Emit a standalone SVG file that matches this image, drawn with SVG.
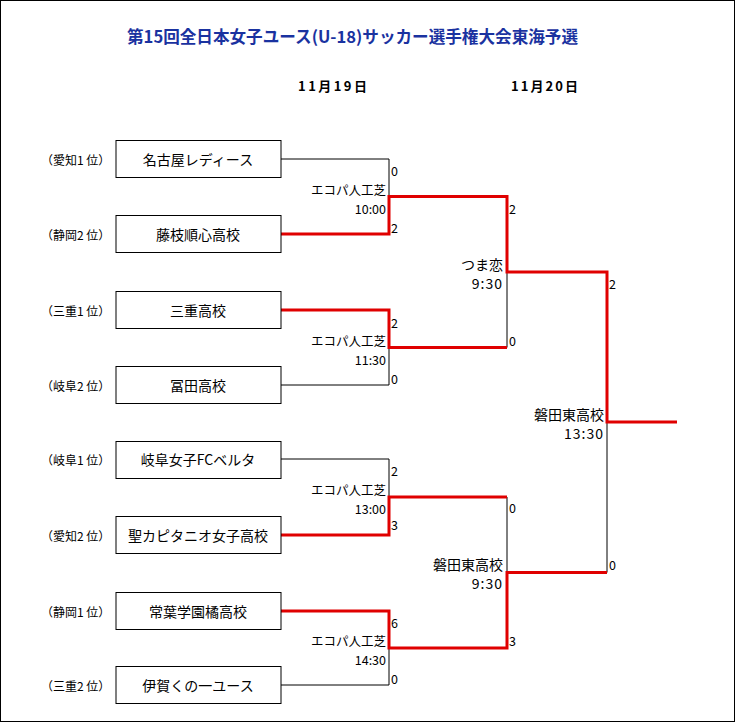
<svg xmlns="http://www.w3.org/2000/svg" width="735" height="722" viewBox="0 0 735 722">
<style>
text{font-family:"Noto Sans CJK JP","Noto Sans",sans-serif;fill:#000;dominant-baseline:central}
.box{fill:#fff;stroke:#000;stroke-width:1}
.team{font-size:14px;text-anchor:middle}
.seed{font-size:12px;text-anchor:start}
.sc{font-size:12.5px;text-anchor:start}
.ven{font-size:12.5px;text-anchor:end}
.ven2{font-size:14px;text-anchor:end}
.blk{fill:none;stroke:#000;stroke-width:1}
.red{fill:none;stroke:#e00000;stroke-width:3;stroke-linejoin:miter}
.title{font-size:16.5px;font-weight:bold;fill:#1a32a0;text-anchor:start}
.date{font-size:13px;font-weight:bold;text-anchor:start}
</style>
<rect x="0.5" y="0.5" width="734" height="721" fill="#fff" stroke="#000" stroke-width="1"/>
<text class="title" x="127" y="36" textLength="451" lengthAdjust="spacingAndGlyphs">第15回全日本女子ユース(U-18)サッカー選手権大会東海予選</text>
<text class="date" x="298" y="85" textLength="69" lengthAdjust="spacing">11月19日</text>
<text class="date" x="511" y="85" textLength="67" lengthAdjust="spacing">11月20日</text>

<g id="connectors">
<path class="blk" d="M281 159H389V196.5"/>
<path class="blk" d="M281 385H389V347.5"/>
<path class="blk" d="M281 459H389V497"/>
<path class="blk" d="M281 685H389V648"/>
<path class="blk" d="M507 272V347.5"/>
<path class="blk" d="M507 497V572.5"/>
<path class="blk" d="M607 572.5V422"/>
<path class="red" d="M281 234H389V196.5H507V272H607V422H677"/>
<path class="red" d="M281 310H389V347.5H507"/>
<path class="red" d="M281 535H389V497H507"/>
<path class="red" d="M281 611H389V648H507V572.5H607"/>
</g>

<g id="team1"><text class="seed" x="41" y="159">（愛知1 位）</text><rect class="box" x="116" y="140.5" width="165" height="37"/><text class="team" x="198" y="159">名古屋レディース</text></g>
<g id="team2"><text class="seed" x="41" y="234">（静岡2 位）</text><rect class="box" x="116" y="215.5" width="165" height="37"/><text class="team" x="198" y="234">藤枝順心高校</text></g>
<g id="team3"><text class="seed" x="41" y="310">（三重1 位）</text><rect class="box" x="116" y="291.5" width="165" height="37"/><text class="team" x="198" y="310">三重高校</text></g>
<g id="team4"><text class="seed" x="41" y="385">（岐阜2 位）</text><rect class="box" x="116" y="366.5" width="165" height="37"/><text class="team" x="198" y="385">冨田高校</text></g>
<g id="team5"><text class="seed" x="41" y="459">（岐阜1 位）</text><rect class="box" x="116" y="441.5" width="165" height="37"/><text class="team" x="198" y="459">岐阜女子FCベルタ</text></g>
<g id="team6"><text class="seed" x="41" y="535">（愛知2 位）</text><rect class="box" x="116" y="516.5" width="165" height="37"/><text class="team" x="198" y="535">聖カピタニオ女子高校</text></g>
<g id="team7"><text class="seed" x="41" y="611">（静岡1 位）</text><rect class="box" x="116" y="592.5" width="165" height="37"/><text class="team" x="198" y="611">常葉学園橘高校</text></g>
<g id="team8"><text class="seed" x="41" y="685">（三重2 位）</text><rect class="box" x="116" y="666.5" width="165" height="37"/><text class="team" x="198" y="685">伊賀くの一ユース</text></g>

<g id="match1"><text class="sc" x="391" y="170">0</text><text class="sc" x="391" y="227">2</text><text class="ven" x="386" y="189">エコパ人工芝</text><text class="ven" x="386" y="208">10:00</text></g>
<g id="match2"><text class="sc" x="391" y="322">2</text><text class="sc" x="391" y="378">0</text><text class="ven" x="386" y="340">エコパ人工芝</text><text class="ven" x="386" y="359">11:30</text></g>
<g id="match3"><text class="sc" x="391" y="470">2</text><text class="sc" x="391" y="524">3</text><text class="ven" x="386" y="489">エコパ人工芝</text><text class="ven" x="386" y="508">13:00</text></g>
<g id="match4"><text class="sc" x="391" y="622">6</text><text class="sc" x="391" y="678">0</text><text class="ven" x="386" y="640">エコパ人工芝</text><text class="ven" x="386" y="659">14:30</text></g>
<g id="semi1"><text class="sc" x="509" y="208">2</text><text class="sc" x="509" y="340">0</text><text class="ven2" x="503" y="264">つま恋</text><text class="ven2" x="503" y="283" letter-spacing="1">9:30</text></g>
<g id="semi2"><text class="sc" x="509" y="507">0</text><text class="sc" x="509" y="640">3</text><text class="ven2" x="503" y="564">磐田東高校</text><text class="ven2" x="503" y="583" letter-spacing="1">9:30</text></g>
<g id="final"><text class="sc" x="609" y="283">2</text><text class="sc" x="609" y="564">0</text><text class="ven2" x="604" y="414">磐田東高校</text><text class="ven2" x="604" y="433" letter-spacing="1">13:30</text></g>
</svg>
